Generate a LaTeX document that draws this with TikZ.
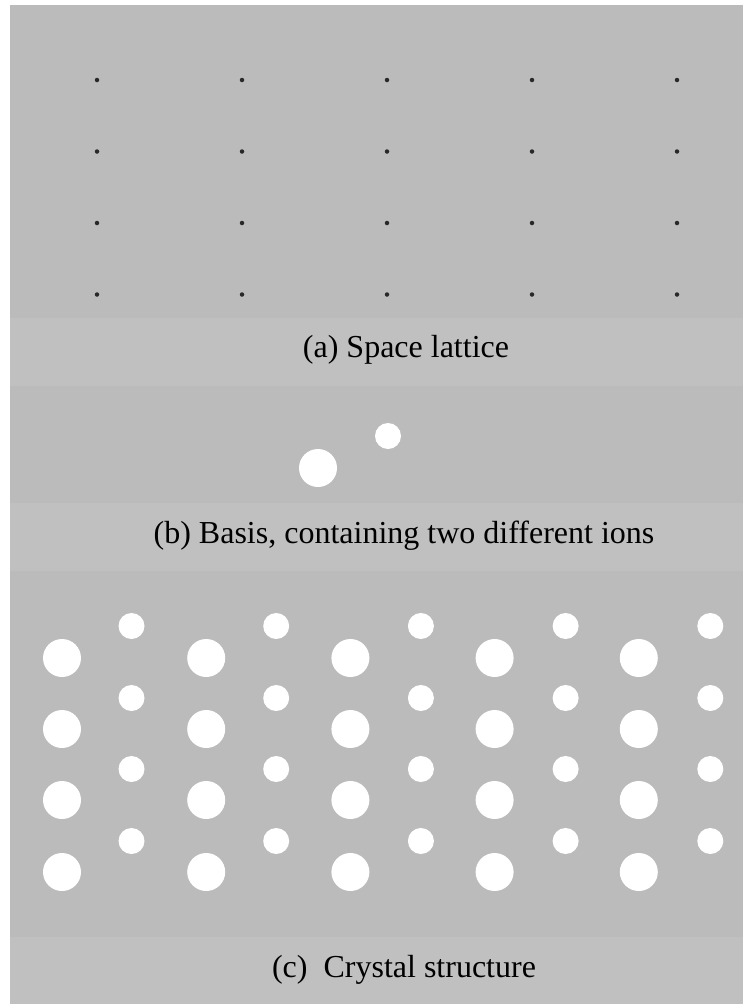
\documentclass[tikz,border=0pt]{standalone}
\usepackage{fontspec}
\setmainfont{Liberation Serif}
\definecolor{panelgray}{RGB}{187,187,187}
\definecolor{labelgray}{RGB}{192,192,192}
\definecolor{dotgray}{RGB}{40,40,40}
\begin{document}
\begin{tikzpicture}[x=1pt,y=-1pt,
  latticedot/.style={circle,fill=dotgray,inner sep=0pt,minimum size=4.5pt},
  bigion/.style={circle,fill=white,inner sep=0pt,minimum size=38pt},
  smallion/.style={circle,fill=white,inner sep=0pt,minimum size=26pt},
  caption/.style={inner sep=0pt,font=\fontsize{32}{32}\selectfont,text=black}]
\useasboundingbox (0,0) rectangle (743,1004);
\fill[white] (0,0) rectangle (743,1004);
% panels and label bands
\fill[panelgray] (10,5) rectangle (743,318);
\fill[labelgray] (10,318) rectangle (743,386);
\fill[panelgray] (10,386) rectangle (743,503);
\fill[labelgray] (10,503) rectangle (743,571);
\fill[panelgray] (10,571) rectangle (743,937);
\fill[labelgray] (10,937) rectangle (743,1004);
% (a) space lattice
\foreach \i in {0,...,4}{
  \foreach \j/\yy in {0/80,1/151.5,2/223,3/294.5}{
    \node[latticedot] (d-\i-\j) at ({97+145*\i},\yy) {};
  }
}
\node[caption] (capa) at (406,350) {(a) Space lattice};
% (b) basis
\node[bigion] (basisbig) at (318,468) {};
\node[smallion] (basissmall) at (388,436) {};
\node[caption] (capb) at (404,536) {(b) Basis, containing two different ions};
% (c) crystal structure
\foreach \i in {0,...,4}{
  \foreach \j/\yb/\ys in {0/658/626,1/729/698,2/800/769,3/872/841}{
    \node[bigion] (cb-\i-\j) at ({62+144.2*\i},\yb) {};
    \node[smallion] (cs-\i-\j) at ({131.5+144.7*\i},\ys) {};
  }
}
\node[caption] (capc) at (404,970) {(c)\ \ Crystal structure};
\end{tikzpicture}
\end{document}
